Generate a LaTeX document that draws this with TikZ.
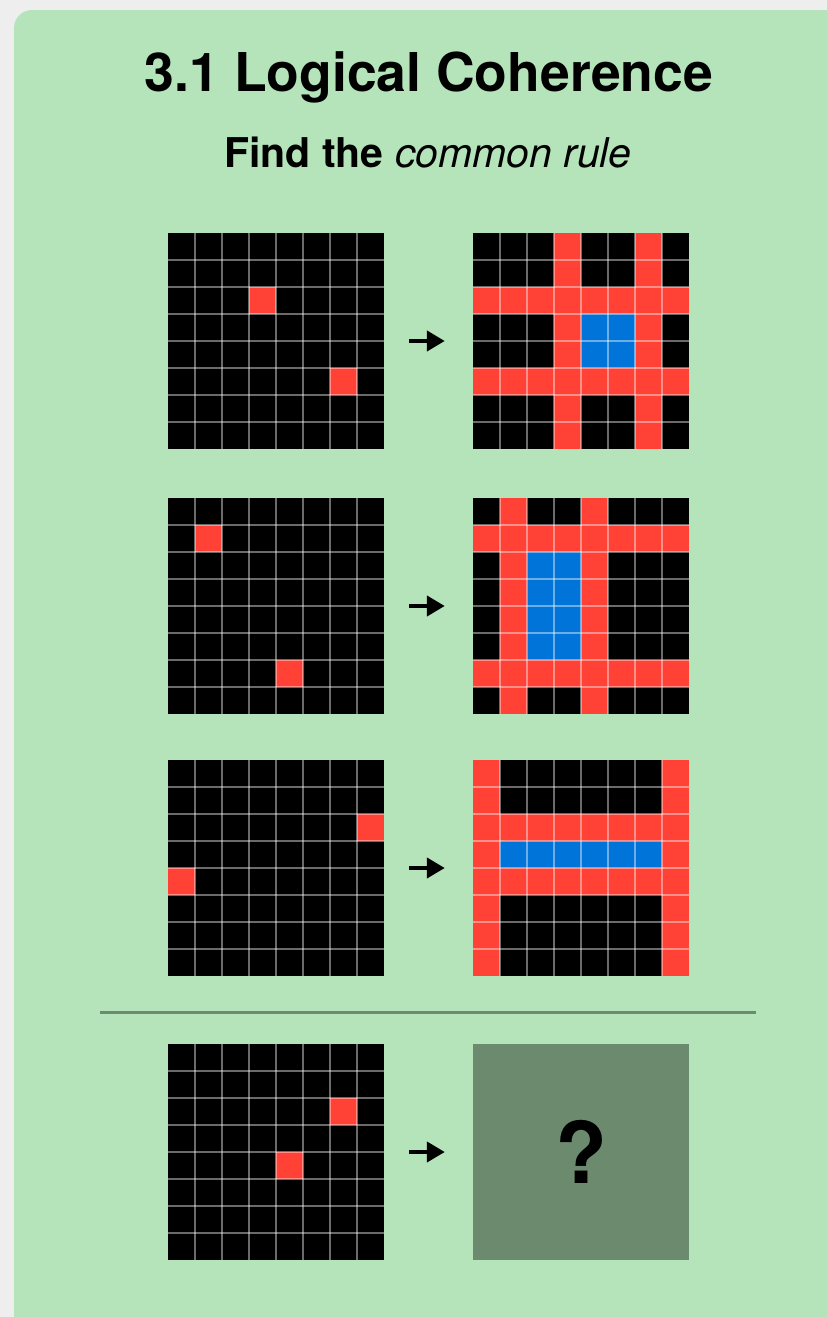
\documentclass[tikz,border=0pt]{standalone}
\usepackage{fontspec}
\setmainfont{TeX Gyre Heros}
\usetikzlibrary{arrows.meta}
\definecolor{bggray}{HTML}{EEEEEE}
\definecolor{cardgreen}{HTML}{B5E4BA}
\definecolor{arcred}{HTML}{FF4136}
\definecolor{arcblue}{HTML}{0074D9}
\definecolor{sepgreen}{HTML}{6B8A6E}
\tikzset{
  gridbox/.style={rectangle, fill=black, draw=none, minimum size=216pt, inner sep=0pt},
  gridline/.style={white, opacity=0.42, line width=1.3pt},
  arr/.style={line width=4.2pt, -{Triangle[length=18pt,width=20pt]}, shorten <=25pt, shorten >=28pt},
  sepline/.style={sepgreen, line width=3pt},
  qbox/.style={rectangle, fill=sepgreen, draw=none, minimum size=216pt, inner sep=0pt,
    font=\fontsize{85}{90}\selectfont\bfseries},
  titletext/.style={anchor=base, font=\fontsize{53.5}{60}\selectfont\bfseries},
  subtext/.style={anchor=base, font=\fontsize{41}{48}\selectfont}
}
% input grid: name, x0, y0, red cells row/col
\newcommand\ingrid[4]{%
  \node[gridbox] (#1) at (#2+108,#3+108) {};
  \foreach \r/\c in {#4} {\fill[arcred] (#2+27*\c,#3+27*\r) rectangle ++(27,27);}
  \foreach \k in {1,...,7} {%
    \draw[gridline] (#2+27*\k,#3) -- ++(0,216);
    \draw[gridline] (#2,#3+27*\k) -- ++(216,0);}
}
% output grid: name, x0, y0, r1, r2, c1, c2
\newcommand\outgrid[7]{%
  \node[gridbox] (#1) at (#2+108,#3+108) {};
  \fill[arcred] (#2,#3+27*#4) rectangle ++(216,27);
  \fill[arcred] (#2,#3+27*#5) rectangle ++(216,27);
  \fill[arcred] (#2+27*#6,#3) rectangle ++(27,216);
  \fill[arcred] (#2+27*#7,#3) rectangle ++(27,216);
  \fill[arcblue] (#2+27*#6+27,#3+27*#4+27) rectangle (#2+27*#7,#3+27*#5);
  \foreach \k in {1,...,7} {%
    \draw[gridline] (#2+27*\k,#3) -- ++(0,216);
    \draw[gridline] (#2,#3+27*\k) -- ++(216,0);}
}
\begin{document}
\begin{tikzpicture}[x=1pt,y=-1pt]
\useasboundingbox (0,0) rectangle (827,1317);
\clip (0,0) rectangle (827,1317);
\fill[bggray] (0,0) rectangle (827,1317);
\fill[cardgreen, rounded corners=18pt] (14,10) rectangle (880,1370);
\node[titletext] (title) at (429,91) {3.1 Logical Coherence};
\node[subtext] (sub) at (428,167) {\textbf{Find the} \textit{common rule}};
% row 1
\ingrid{in1}{168}{233}{2/3,5/6}
\outgrid{out1}{473}{233}{2}{5}{3}{6}
\draw[arr] (in1) -- (out1);
% row 2
\ingrid{in2}{168}{498}{1/1,6/4}
\outgrid{out2}{473}{498}{1}{6}{1}{4}
\draw[arr] (in2) -- (out2);
% row 3
\ingrid{in3}{168}{760}{2/7,4/0}
\outgrid{out3}{473}{760}{2}{4}{0}{7}
\draw[arr] (in3) -- (out3);
% separator
\draw[sepline] (100,1012) -- (756,1012);
% test
\ingrid{in4}{168}{1044}{2/6,4/4}
\node[qbox] (q) at (581,1152) {?};
\draw[arr] (in4) -- (q);
\end{tikzpicture}
\end{document}
